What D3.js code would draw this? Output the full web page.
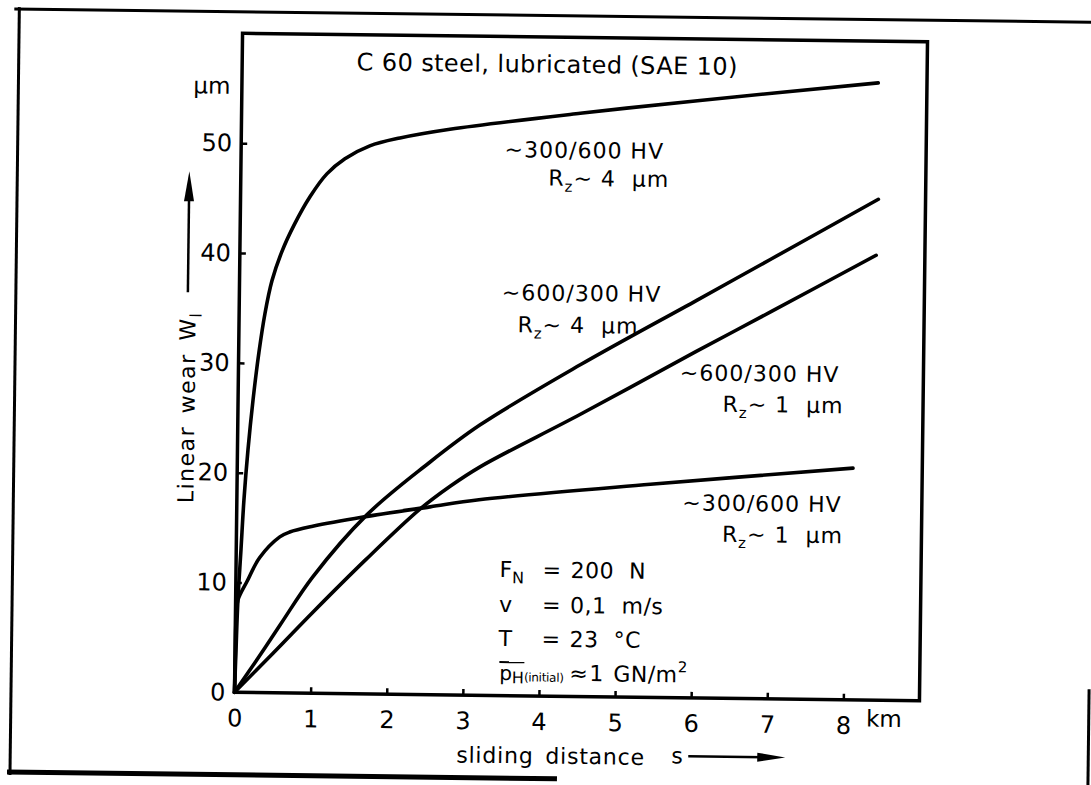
<!DOCTYPE html>
<html><head><meta charset="utf-8">
<script src="https://cdn.jsdelivr.net/npm/d3@7"></script>
<style>
html,body{margin:0;padding:0;background:#fff;}
svg{display:block;}
text{font-family:"DejaVu Sans",sans-serif;fill:#000;white-space:pre;}
</style></head><body>
<svg id="chart" width="1091" height="785"></svg>
<script>
// ---------------- data ----------------
const xTicks = [0, 1, 2, 3, 4, 5, 6, 7, 8];
const yTicks = [0, 10, 20, 30, 40, 50];
const xUnit = "km";
const yUnit = "µm";
const title = "C 60 steel, lubricated (SAE 10)";

// ~300/600 HV, Rz ~ 4 µm
const distA = [0, 0.013, 0.03, 0.062, 0.093, 0.138, 0.196, 0.267, 0.339, 0.426, 0.553, 0.707, 0.912, 1.13, 1.365, 1.69, 2.085, 2.74, 4.45, 6.02, 8.36];
const wearA = [0, 3.86, 8.4, 12.96, 17.5, 22.07, 26.6, 31.0, 34.5, 37.5, 40.2, 42.6, 45.2, 47.3, 48.7, 49.9, 50.65, 51.5, 53.1, 54.4, 56.2];
// ~300/600 HV, Rz ~ 1 µm
const distB = [0, 0.005, 0.01, 0.03, 0.146, 0.31, 0.57, 0.70, 1.0, 1.66, 2.54, 3.18, 5.43, 8.09];
const wearB = [0, 3.5, 7.0, 8.4, 10.1, 12.3, 14.2, 14.65, 15.2, 16.1, 17.1, 17.8, 19.4, 21.1];
// ~600/300 HV, Rz ~ 4 µm
const distC = [0, 0.3, 0.59, 1.01, 1.71, 2.5, 3.18, 4.49, 6.01, 6.97, 8.38];
const wearC = [0, 3.1, 6.2, 10.6, 16.3, 21.0, 24.6, 30.2, 36.2, 40.0, 45.6];
// ~600/300 HV, Rz ~ 1 µm
const distD = [0, 0.5, 1.02, 1.7, 2.41, 2.8, 3.19, 4.5, 6.0, 7.0, 8.36];
const wearD = [0, 3.6, 7.4, 12.2, 16.9, 19.0, 20.8, 25.7, 31.5, 35.3, 40.5];

const hardness = ["~300/600 HV", "~600/300 HV", "~600/300 HV", "~300/600 HV"];
const roughness = ["4", "4", "1", "1"];

const paramNames = ["F", "v", "T"];
const paramSubs = ["N", "", ""];
const paramValues = ["200  N", "0,1  m/s", "23  °C"];

// ---------------- drawing ----------------
const svg = d3.select("#chart");
const g = svg.append("g").attr("transform", "rotate(0.7,581,367)");

const x = d3.scaleLinear().domain([0, 9]).range([238.5, 923.5]);
const y = d3.scaleLinear().domain([0, 60]).range([696.5, 37.5]);

// outer scan border
const border = [
  [10, 16, 1100, 16, 3],
  [15, 14, 15, 782, 3],
  [12, 779, 562, 779, 5],
  [1093, 683, 1093, 790, 3]
];
g.selectAll("line.border").data(border).enter().append("line")
  .attr("class", "border")
  .attr("x1", d => d[0]).attr("y1", d => d[1]).attr("x2", d => d[2]).attr("y2", d => d[3])
  .attr("stroke", "#000").attr("stroke-width", d => d[4]);

// plot frame
g.append("rect")
  .attr("x", x(0)).attr("y", y(60))
  .attr("width", x(9) - x(0)).attr("height", y(0) - y(60))
  .attr("fill", "none").attr("stroke", "#000").attr("stroke-width", 3.5);

// axes
const gx = g.append("g").attr("transform", `translate(0,${y(0)})`)
  .call(d3.axisBottom(x).tickValues(xTicks).tickSizeInner(-6).tickSizeOuter(0).tickPadding(17).tickFormat(d3.format("d")));
gx.select(".domain").remove();
gx.selectAll(".tick line").attr("stroke", "#000").attr("stroke-width", 2.5);
gx.selectAll(".tick text").attr("font-size", 24).attr("font-family", "DejaVu Sans").attr("fill", "#000");

const gy = g.append("g").attr("transform", `translate(${x(0)},0)`)
  .call(d3.axisLeft(y).tickValues(yTicks).tickSizeInner(-6).tickSizeOuter(0).tickPadding(9).tickFormat(d3.format("d")));
gy.select(".domain").remove();
gy.selectAll(".tick line").attr("stroke", "#000").attr("stroke-width", 2.5);
gy.selectAll(".tick text").attr("font-size", 24).attr("font-family", "DejaVu Sans").attr("fill", "#000");

// units
g.append("text").attr("x", x(8) + 23).attr("y", 723).attr("font-size", 23).text(xUnit);
g.append("text").attr("x", 190).attr("y", 98).attr("font-size", 23).text(yUnit);

// title
g.append("text").attr("x", 353).attr("y", 73).attr("font-size", 24)
  .attr("letter-spacing", 0.4).text(title);

// curves
const line = d3.line().x(d => x(d[0])).y(d => y(d[1])).curve(d3.curveCatmullRom.alpha(0.5));
const series = [
  d3.zip(distA, wearA),
  d3.zip(distB, wearB),
  d3.zip(distC, wearC),
  d3.zip(distD, wearD)
];
g.selectAll("path.curve").data(series).enter().append("path")
  .attr("class", "curve")
  .attr("d", line)
  .attr("fill", "none").attr("stroke", "#000").attr("stroke-width", 3.6)
  .attr("stroke-linecap", "round").attr("stroke-linejoin", "round");

// curve annotations
const labelPos = [[502, 158, 546, 186], [501, 301, 517, 333], [680, 379, 723, 410], [684, 509, 724, 540]];
hardness.forEach((h, i) => {
  const p = labelPos[i];
  g.append("text").attr("x", p[0]).attr("y", p[1]).attr("font-size", 22)
    .attr("letter-spacing", 1).text(h);
  const t = g.append("text").attr("x", p[2]).attr("y", p[3]).attr("font-size", 22).attr("letter-spacing", 1);
  t.append("tspan").text("R");
  t.append("tspan").attr("font-size", 15).attr("dy", 6).text("z");
  t.append("tspan").attr("dy", -6).text("~ " + roughness[i] + "  µm");
});

// operating parameters
const rowY = [578, 613, 647];
paramNames.forEach((n, i) => {
  const t = g.append("text").attr("x", 502).attr("y", rowY[i]).attr("font-size", 22);
  t.append("tspan").text(n);
  if (paramSubs[i]) t.append("tspan").attr("font-size", 16).attr("dy", 6).text(paramSubs[i]);
  g.append("text").attr("x", 545).attr("y", rowY[i]).attr("font-size", 22).text("=");
  g.append("text").attr("x", 573).attr("y", rowY[i]).attr("font-size", 22).attr("letter-spacing", 0.5).text(paramValues[i]);
});
// mean Hertzian pressure row
const pr = g.append("text").attr("x", 503).attr("y", 681).attr("font-size", 20);
pr.append("tspan").text("p");
pr.append("tspan").attr("font-size", 16).attr("dy", 3).text("H");
pr.append("tspan").attr("font-size", 12).attr("letter-spacing", -0.3).attr("dy", -2).text("(initial)");
g.append("line").attr("x1", 503).attr("x2", 528).attr("y1", 663).attr("y2", 663).attr("stroke", "#000").attr("stroke-width", 2);
g.append("text").attr("x", 573).attr("y", 681).attr("font-size", 22).text("≈");
g.append("text").attr("x", 593).attr("y", 681).attr("font-size", 22).text("1");
const gn = g.append("text").attr("x", 617).attr("y", 681).attr("font-size", 22).attr("letter-spacing", 0.5);
gn.append("tspan").text("GN/m");
gn.append("tspan").attr("font-size", 15).attr("dy", -10).text("2");

// axis titles
const yl = g.append("text").attr("transform", "translate(195,508) rotate(-90)")
  .attr("font-size", 22).attr("letter-spacing", 1.5).attr("word-spacing", 4);
yl.append("tspan").text("Linear wear W");
yl.append("tspan").attr("font-size", 16).attr("dy", 6).text("l");
// y arrow
g.append("line").attr("x1", 187).attr("x2", 187).attr("y1", 297).attr("y2", 200).attr("stroke", "#000").attr("stroke-width", 2.5);
g.append("path").attr("d", "M187,176 L182,206 L192,206 Z").attr("fill", "#000");

g.append("text").attr("x", 461).attr("y", 764).attr("font-size", 22).attr("letter-spacing", 0.8).attr("word-spacing", 4).text("sliding distance");
g.append("text").attr("x", 676).attr("y", 762).attr("font-size", 22).text("s");
g.append("line").attr("x1", 693).attr("x2", 770).attr("y1", 755).attr("y2", 755).attr("stroke", "#000").attr("stroke-width", 2.5);
g.append("path").attr("d", "M790,755 L762,750.5 L762,759.5 Z").attr("fill", "#000");
</script>
</body></html>
